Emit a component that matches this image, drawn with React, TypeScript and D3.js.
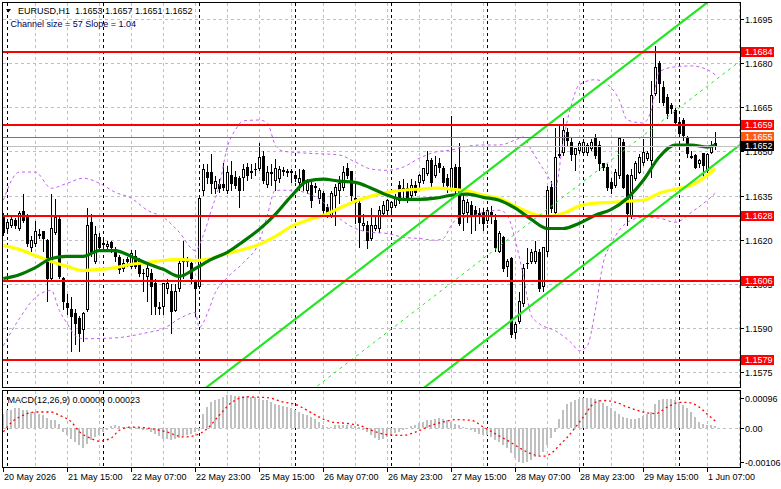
import React from 'react';
import * as d3 from 'd3';

// ---------------- DATA ----------------
const opens = [
1.16283,1.16238,1.16249,1.16266,1.16238,1.16297,1.16279,1.16174,1.16187,1.16218,
1.16228,1.16198,1.16068,1.16225,1.16269,1.16068,1.15986,1.15965,1.15952,1.15935,
1.15897,1.15965,1.16259,1.16129,1.16208,1.16187,1.16180,1.16191,1.16167,1.16140,
1.16105,1.16133,1.16112,1.16146,1.16129,1.16088,1.16078,1.16088,1.16054,1.15969,
1.15976,1.16037,1.16027,1.15962,1.16037,1.16126,1.16129,1.16119,1.16058,1.16044,
1.16368,1.16430,1.16430,1.16375,1.16389,1.16389,1.16368,1.16419,1.16413,1.16409,
1.16413,1.16447,1.16430,1.16440,1.16443,1.16484,1.16389,1.16426,1.16402,1.16409,
1.16433,1.16430,1.16430,1.16419,1.16395,1.16436,1.16368,1.16385,1.16382,1.16341,
1.16358,1.16310,1.16283,1.16351,1.16368,1.16378,1.16443,1.16433,1.16341,1.16324,
1.16249,1.16249,1.16204,1.16238,1.16238,1.16290,1.16300,1.16310,1.16317,1.16385,
1.16368,1.16375,1.16351,1.16385,1.16395,1.16402,1.16426,1.16471,1.16419,1.16460,
1.16443,1.16409,1.16375,1.16447,1.16447,1.16290,1.16293,1.16317,1.16300,1.16290,
1.16293,1.16266,1.16293,1.16266,1.16163,1.16208,1.16112,1.16136,1.15887,1.15924,
1.15986,1.16119,1.16129,1.16129,1.16157,1.16044,1.16163,1.16378,1.16293,1.16488,
1.16498,1.16566,1.16532,1.16491,1.16505,1.16498,1.16498,1.16512,1.16546,1.16522,
1.16460,1.16447,1.16395,1.16385,1.16419,1.16532,1.16419,1.16283,1.16409,1.16430,
1.16464,1.16477,1.16471,1.16699,1.16802,1.16720,1.16686,1.16658,1.16641,1.16600,
1.16607,1.16546,1.16484,1.16488,1.16460,1.16494,1.16436,1.16498,1.16530];

const highs = [
1.16293,1.16269,1.16279,1.16276,1.16300,1.16358,1.16290,1.16215,1.16266,1.16238,
1.16232,1.16204,1.16358,1.16341,1.16283,1.16078,1.16017,1.16010,1.15969,1.15945,
1.15959,1.16310,1.16290,1.16249,1.16225,1.16204,1.16198,1.16198,1.16177,1.16150,
1.16136,1.16146,1.16167,1.16167,1.16140,1.16105,1.16119,1.16102,1.16071,1.15993,
1.16054,1.16068,1.16051,1.16051,1.16140,1.16198,1.16146,1.16136,1.16061,1.16351,
1.16460,1.16460,1.16494,1.16419,1.16409,1.16464,1.16454,1.16471,1.16436,1.16419,
1.16460,1.16464,1.16460,1.16464,1.16532,1.16505,1.16454,1.16460,1.16477,1.16454,
1.16450,1.16443,1.16443,1.16436,1.16443,1.16443,1.16409,1.16402,1.16395,1.16378,
1.16368,1.16324,1.16368,1.16392,1.16419,1.16454,1.16464,1.16436,1.16392,1.16334,
1.16290,1.16266,1.16310,1.16283,1.16317,1.16334,1.16341,1.16334,1.16358,1.16402,
1.16409,1.16395,1.16409,1.16402,1.16426,1.16447,1.16505,1.16481,1.16488,1.16481,
1.16454,1.16426,1.16624,1.16460,1.16532,1.16358,1.16341,1.16334,1.16317,1.16310,
1.16310,1.16307,1.16317,1.16290,1.16232,1.16215,1.16136,1.16143,1.15924,1.16027,
1.16119,1.16174,1.16170,1.16198,1.16170,1.16180,1.16385,1.16402,1.16583,1.16590,
1.16617,1.16583,1.16549,1.16515,1.16539,1.16546,1.16532,1.16546,1.16563,1.16539,
1.16464,1.16460,1.16413,1.16443,1.16549,1.16546,1.16426,1.16443,1.16471,1.16494,
1.16546,1.16505,1.16744,1.16863,1.16812,1.16744,1.16699,1.16669,1.16651,1.16614,
1.16617,1.16556,1.16505,1.16494,1.16477,1.16494,1.16498,1.16539,1.16570];

const lows = [
1.16215,1.16228,1.16242,1.16238,1.16232,1.16259,1.16177,1.16163,1.16180,1.16204,
1.16163,1.15993,1.16058,1.16218,1.16068,1.15965,1.15948,1.15822,1.15846,1.15822,
1.15856,1.15959,1.16143,1.16122,1.16163,1.16170,1.16163,1.16157,1.16129,1.16088,
1.16095,1.16112,1.16105,1.16102,1.16078,1.16027,1.15993,1.15948,1.15948,1.15948,
1.15948,1.16017,1.15883,1.15959,1.16027,1.16071,1.16112,1.16054,1.15942,1.16034,
1.16351,1.16392,1.16358,1.16358,1.16361,1.16368,1.16358,1.16368,1.16375,1.16310,
1.16368,1.16402,1.16409,1.16419,1.16436,1.16392,1.16378,1.16385,1.16368,1.16395,
1.16419,1.16416,1.16395,1.16399,1.16368,1.16368,1.16358,1.16310,1.16361,1.16324,
1.16290,1.16276,1.16276,1.16249,1.16324,1.16368,1.16409,1.16334,1.16256,1.16174,
1.16232,1.16170,1.16198,1.16232,1.16225,1.16283,1.16283,1.16283,1.16310,1.16324,
1.16344,1.16327,1.16344,1.16351,1.16378,1.16392,1.16419,1.16378,1.16413,1.16430,
1.16378,1.16361,1.16368,1.16358,1.16249,1.16232,1.16259,1.16221,1.16232,1.16256,
1.16232,1.16256,1.16256,1.16163,1.16157,1.16095,1.16078,1.15870,1.15866,1.15918,
1.15976,1.16105,1.16119,1.16119,1.16027,1.16027,1.16146,1.16293,1.16286,1.16481,
1.16488,1.16522,1.16471,1.16436,1.16494,1.16488,1.16488,1.16505,1.16477,1.16436,
1.16436,1.16368,1.16358,1.16378,1.16409,1.16375,1.16249,1.16273,1.16402,1.16426,
1.16454,1.16471,1.16413,1.16692,1.16669,1.16658,1.16614,1.16631,1.16590,1.16549,
1.16539,1.16481,1.16477,1.16443,1.16447,1.16413,1.16430,1.16494,1.16510];

const closes = [
1.16225,1.16259,1.16269,1.16249,1.16290,1.16266,1.16187,1.16198,1.16228,1.16215,
1.16204,1.16071,1.16238,1.16276,1.16078,1.15993,1.15972,1.15942,1.15918,1.15883,
1.15952,1.16249,1.16153,1.16218,1.16174,1.16184,1.16184,1.16174,1.16143,1.16099,
1.16119,1.16129,1.16153,1.16112,1.16088,1.16085,1.16102,1.16044,1.15976,1.15972,
1.16051,1.16054,1.15959,1.16027,1.16119,1.16136,1.16131,1.16068,1.16034,1.16341,
1.16440,1.16413,1.16392,1.16399,1.16375,1.16378,1.16430,1.16392,1.16385,1.16368,
1.16440,1.16419,1.16433,1.16442,1.16481,1.16402,1.16430,1.16430,1.16443,1.16440,
1.16436,1.16433,1.16433,1.16409,1.16409,1.16392,1.16395,1.16334,1.16380,1.16368,
1.16300,1.16290,1.16358,1.16378,1.16392,1.16430,1.16419,1.16351,1.16327,1.16259,
1.16256,1.16198,1.16249,1.16249,1.16300,1.16317,1.16334,1.16327,1.16344,1.16334,
1.16375,1.16334,1.16385,1.16361,1.16419,1.16443,1.16471,1.16395,1.16454,1.16447,
1.16395,1.16385,1.16443,1.16368,1.16256,1.16334,1.16327,1.16283,1.16283,1.16288,
1.16256,1.16300,1.16283,1.16174,1.16221,1.16105,1.16129,1.15880,1.15914,1.15993,
1.16105,1.16122,1.16157,1.16163,1.16037,1.16174,1.16368,1.16307,1.16481,1.16491,
1.16573,1.16539,1.16491,1.16512,1.16529,1.16532,1.16522,1.16532,1.16488,1.16460,
1.16447,1.16378,1.16375,1.16430,1.16546,1.16378,1.16290,1.16419,1.16460,1.16481,
1.16498,1.16494,1.16692,1.16788,1.16733,1.16669,1.16631,1.16648,1.16600,1.16563,
1.16556,1.16494,1.16481,1.16447,1.16471,1.16454,1.16491,1.16522,1.16520];

// moving averages: [bar, price]
const greenMA: [number, number][] = [
[0,1.16068],[4,1.16081],[8,1.16105],[12,1.16136],[16,1.16143],[20,1.16143],[24,1.16163],
[28,1.16163],[32,1.16143],[36,1.16119],[40,1.16099],[44,1.16075],[48,1.16102],[52,1.16133],
[56,1.16157],[60,1.16194],[64,1.16235],[68,1.16286],[72,1.16348],[76,1.16399],[80,1.16406],
[84,1.16399],[88,1.16395],[92,1.16375],[96,1.16351],[100,1.16337],[104,1.16337],[108,1.16341],
[112,1.16351],[116,1.16355],[120,1.16344],[124,1.16334],[128,1.16307],[132,1.16269],[136,1.16238],
[140,1.16238],[144,1.16256],[148,1.16283],[152,1.16303],[156,1.16341],[160,1.16402],[164,1.16481],
[168,1.16522],[172,1.16522],[176,1.16515],[178,1.16522]];

const yellowMA: [number, number][] = [
[0,1.16180],[4,1.16167],[8,1.16146],[12,1.16126],[16,1.16109],[20,1.16095],[24,1.16099],
[28,1.16105],[32,1.16116],[36,1.16122],[40,1.16129],[44,1.16133],[48,1.16129],[52,1.16136],
[56,1.16153],[60,1.16167],[64,1.16184],[68,1.16211],[72,1.16245],[76,1.16266],[80,1.16283],
[84,1.16307],[88,1.16331],[92,1.16348],[96,1.16361],[100,1.16368],[104,1.16372],[108,1.16375],
[112,1.16372],[116,1.16365],[120,1.16351],[124,1.16341],[128,1.16314],[132,1.16290],[136,1.16279],
[140,1.16290],[144,1.16314],[148,1.16324],[152,1.16327],[156,1.16331],[160,1.16334],[164,1.16358],
[168,1.16372],[172,1.16385],[176,1.16419],[178,1.16443]];

const bbUpper: [number, number][] = [
[0,1.16334],[4,1.16430],[8,1.16430],[12,1.16375],[16,1.16392],[20,1.16409],[24,1.16392],
[28,1.16361],[32,1.16341],[36,1.16300],[40,1.16276],[44,1.16225],[48,1.16163],[50,1.16215],
[52,1.16300],[54,1.16385],[56,1.16515],[58,1.16573],[60,1.16604],[64,1.16607],[66,1.16597],
[68,1.16522],[70,1.16501],[76,1.16494],[84,1.16488],[88,1.16464],[92,1.16440],[96,1.16436],
[100,1.16447],[104,1.16477],[108,1.16498],[112,1.16505],[116,1.16518],[120,1.16522],[124,1.16522],
[128,1.16539],[130,1.16549],[132,1.16505],[136,1.16419],[138,1.16378],[140,1.16539],[142,1.16658],
[144,1.16727],[148,1.16744],[152,1.16716],[154,1.16675],[156,1.16607],[160,1.16597],[162,1.16641],
[164,1.16771],[168,1.16788],[172,1.16791],[176,1.16778],[178,1.16761]];

const bbLower: [number, number][] = [
[0,1.15839],[4,1.15931],[8,1.16003],[12,1.16027],[14,1.15959],[16,1.15914],[18,1.15873],
[20,1.15863],[28,1.15866],[36,1.15884],[40,1.15897],[44,1.15931],[48,1.15952],[49,1.15901],
[51,1.15948],[53,1.16020],[56,1.16071],[60,1.16122],[64,1.16194],[66,1.16283],[68,1.16368],
[72,1.16368],[76,1.16358],[80,1.16327],[84,1.16273],[88,1.16238],[92,1.16225],[96,1.16221],
[100,1.16208],[104,1.16204],[108,1.16198],[110,1.16204],[112,1.16249],[114,1.16276],[116,1.16276],
[120,1.16293],[124,1.16300],[126,1.16283],[128,1.16198],[130,1.16078],[132,1.15942],[134,1.15914],
[138,1.15890],[142,1.15849],[144,1.15822],[146,1.15839],[148,1.15959],[150,1.16122],[152,1.16187],
[156,1.16259],[160,1.16276],[164,1.16273],[168,1.16259],[172,1.16293],[176,1.16334],[178,1.16358]];

const macdHist = [
0.00046,0.00056,0.00058,0.00062,0.00062,0.00058,0.00056,0.00051,0.00051,0.00046,
0.00041,0.00033,0.00027,0.00025,0.00015,-0.00012,-0.00022,-0.00032,-0.00043,-0.00053,
-0.00063,-0.00048,-0.00037,-0.00027,-0.00022,-0.00012,-0.00006,0.00007,0.00009,0.00006,
0.00004,0.00004,0.00004,0.00004,0.00002,-0.00006,-0.00006,-0.00012,-0.00017,-0.00025,
-0.00032,-0.00032,-0.00037,-0.00032,-0.00029,-0.00025,-0.00022,-0.00017,-0.00012,-0.00008,
0.00046,0.00067,0.00082,0.00087,0.00093,0.00098,0.00103,0.00103,0.00100,0.00100,
0.00100,0.00100,0.00098,0.00098,0.00093,0.00090,0.00087,0.00082,0.00077,0.00074,
0.00069,0.00067,0.00062,0.00056,0.00051,0.00046,0.00041,0.00035,0.00030,0.00020,
0.00009,0.00004,0.00004,0.00009,0.00009,0.00009,0.00009,0.00009,0.00006,0.00004,
-0.00006,-0.00012,-0.00022,-0.00029,-0.00035,-0.00032,-0.00027,-0.00022,-0.00015,-0.00012,
-0.00006,-0.00003,0.00006,0.00009,0.00017,0.00020,0.00025,0.00027,0.00030,0.00033,
0.00030,0.00025,0.00020,0.00015,0.00009,0.00004,0.00000,-0.00006,-0.00012,-0.00017,
-0.00022,-0.00022,-0.00027,-0.00037,-0.00043,-0.00053,-0.00063,-0.00078,-0.00094,-0.00106,
-0.00109,-0.00106,-0.00100,-0.00091,-0.00084,-0.00075,-0.00053,-0.00031,-0.00012,0.00030,
0.00057,0.00077,0.00082,0.00090,0.00093,0.00096,0.00096,0.00096,0.00093,0.00087,
0.00079,0.00069,0.00062,0.00054,0.00046,0.00035,0.00033,0.00030,0.00030,0.00033,
0.00037,0.00044,0.00051,0.00077,0.00087,0.00093,0.00093,0.00093,0.00090,0.00082,
0.00072,0.00062,0.00051,0.00035,0.00020,0.00015,0.00009,0.00009,0.00006];

const macdSignal: [number, number][] = [
[0,-0.00011],[2,0.00018],[5,0.00041],[8,0.00051],[12,0.00051],[14,0.00041],[17,0.00020],
[19,-0.00010],[22,-0.00032],[24,-0.00040],[27,-0.00030],[29,-0.00006],[32,0.00004],[37,-0.00001],
[41,-0.00012],[45,-0.00027],[48,-0.00022],[51,-0.00001],[54,0.00041],[57,0.00080],[61,0.00098],
[66,0.00096],[70,0.00082],[73,0.00075],[76,0.00056],[79,0.00035],[82,0.00020],[86,0.00015],
[89,0.00009],[92,-0.00006],[96,-0.00020],[100,-0.00022],[103,-0.00012],[107,0.00009],[110,0.00020],
[113,0.00027],[117,0.00025],[120,0.00004],[123,-0.00017],[127,-0.00045],[130,-0.00068],[133,-0.00084],
[135,-0.00087],[137,-0.00078],[139,-0.00053],[141,-0.00028],[145,0.00035],[148,0.00081],[150,0.00087],
[153,0.00082],[156,0.00067],[160,0.00051],[163,0.00046],[166,0.00066],[169,0.00081],[171,0.00081],
[174,0.00066],[176,0.00044],[178,0.00023]];

const redLevels = [1.1684, 1.1659, 1.1628, 1.1606, 1.1579];
const orangeLevel = 1.1655;
const bidLevel = 1.1652;
const priceTicks = [1.1695, 1.1680, 1.1665, 1.1650, 1.1635, 1.1620, 1.1605, 1.1590, 1.1575];
const macdTicks = [0.00096, 0, -0.00106];
const macdTickLabels = ['0.00096', '0.00', '-0.00106'];
const timeTickBars = [0, 16, 32, 48, 64, 80, 96, 112, 128, 144, 160, 176];
const timeTickLabels = ['20 May 2026', '21 May 15:00', '22 May 07:00', '22 May 23:00', '25 May 15:00',
  '26 May 07:00', '26 May 23:00', '27 May 15:00', '28 May 07:00', '28 May 23:00', '29 May 15:00', '1 Jun 07:00'];
const daySeparatorBars = [1, 25, 49, 73, 97, 121, 145, 169];
const channelAnchorBars = [100, 170];
const channelAnchorPrices = [1.16212, 1.16944];
const channelSize = 0.0057;

// ---------------- CHART ----------------
const FONT = "'Liberation Sans', Arial, sans-serif";

export default function App() {
  const W = 781, H = 489;
  const L = 2.5, R = 740.5, mainTop = 2.5, mainBottom = 387.5, macdTop = 390.5, macdBottom = 467.5;

  const x = d3.scaleLinear().domain([0, 184]).range([3.3, 739.3]);
  const y = d3.scaleLinear().domain([1.156954, 1.170050]).range([388, 3]);
  const ym = d3.scaleLinear().domain([-0.001209, 0.001166]).range([467, 391]);
  const cx = (i: number) => Math.floor(x(i)) + 0.5;

  const lineP = d3.line<[number, number]>().x(d => x(d[0])).y(d => y(d[1])).curve(d3.curveMonotoneX);
  const lineM = d3.line<[number, number]>().x(d => x(d[0])).y(d => ym(d[1])).curve(d3.curveMonotoneX);

  const chan = d3.scaleLinear().domain(channelAnchorBars).range(channelAnchorPrices);
  const chanLine = (off: number) => {
    const a = -20, b = 200;
    return `M${x(a)},${y(chan(a) - off)}L${x(b)},${y(chan(b) - off)}`;
  };

  const vGrid: number[] = [];
  for (let b = 8; b <= 184; b += 8) vGrid.push(b);

  const grid = '#c0c0c0';
  const bbColor = '#c060ee';

  return (
    <svg width={W} height={H} style={{ position: 'absolute', left: 0, top: 0, background: '#fff' }}
      fontFamily={FONT}>
      <defs>
        <clipPath id="mainClip"><rect x={L} y={mainTop} width={R - L} height={mainBottom - mainTop} /></clipPath>
        <clipPath id="macdClip"><rect x={L} y={macdTop} width={R - L} height={macdBottom - macdTop} /></clipPath>
      </defs>
      <rect x={0} y={0} width={W} height={H} fill="#fff" />

      {/* grids */}
      <g stroke={grid} strokeWidth={1} strokeDasharray="3,3" shapeRendering="crispEdges">
        {vGrid.map(b => (
          <g key={'vg' + b}>
            <line x1={cx(b)} x2={cx(b)} y1={mainTop} y2={mainBottom} />
            <line x1={cx(b)} x2={cx(b)} y1={macdTop} y2={macdBottom} />
          </g>
        ))}
        {priceTicks.map(p => (
          <line key={'hg' + p} x1={L} x2={R} y1={Math.round(y(p)) + 0.5} y2={Math.round(y(p)) + 0.5} />
        ))}
        <line x1={L} x2={R} y1={Math.round(ym(0)) + 0.5} y2={Math.round(ym(0)) + 0.5} />
      </g>
      <g stroke="#000" strokeWidth={1} strokeDasharray="3,3" shapeRendering="crispEdges">
        {daySeparatorBars.map(b => (
          <g key={'ds' + b}>
            <line x1={cx(b)} x2={cx(b)} y1={mainTop} y2={mainBottom} />
            <line x1={cx(b)} x2={cx(b)} y1={macdTop} y2={macdBottom} />
          </g>
        ))}
      </g>

      {/* main pane */}
      <g clipPath="url(#mainClip)">
        {/* candles */}
        <g shapeRendering="crispEdges">
          {opens.map((o, i) => {
            const c = closes[i];
            const xc = cx(i);
            const yh = Math.round(y(highs[i])) + 0.5;
            const yl = Math.round(y(lows[i])) + 0.5;
            const yo = Math.round(y(o)) + 0.5;
            const yc = Math.round(y(c)) + 0.5;
            const top = Math.min(yo, yc), bot = Math.max(yo, yc);
            const bull = c >= o;
            return (
              <g key={'c' + i}>
                <line x1={xc} x2={xc} y1={yh} y2={yl} stroke="#000" />
                {bot - top < 1 ? (
                  <line x1={xc - 1.5} x2={xc + 1.5} y1={top} y2={top} stroke="#000" />
                ) : (
                  <rect x={xc - 1} y={top} width={2} height={bot - top}
                    fill={bull ? '#fff' : '#000'} stroke="#000" strokeWidth={1} />
                )}
              </g>
            );
          })}
        </g>
        {/* bollinger */}
        <path d={lineP(bbUpper) || ''} fill="none" stroke={bbColor} strokeWidth={1} strokeDasharray="3,3" />
        <path d={lineP(bbLower) || ''} fill="none" stroke={bbColor} strokeWidth={1} strokeDasharray="3,3" />
        {/* moving averages */}
        <path d={lineP(yellowMA) || ''} fill="none" stroke="#ffff00" strokeWidth={3.2} />
        <path d={lineP(greenMA) || ''} fill="none" stroke="#007800" strokeWidth={3.2} />
        {/* channel */}
        <path d={chanLine(0)} stroke="#22e622" strokeWidth={2.2} fill="none" />
        <path d={chanLine(channelSize)} stroke="#22e622" strokeWidth={2.2} fill="none" />
        <path d={chanLine(channelSize / 2)} stroke="#22e622" strokeWidth={1} strokeDasharray="3,4" fill="none" />
        {/* horizontal levels */}
        <line x1={L} x2={R} y1={Math.round(y(bidLevel)) + 0.5} y2={Math.round(y(bidLevel)) + 0.5}
          stroke="#c0c0c0" strokeWidth={1} shapeRendering="crispEdges" />
        <line x1={L} x2={R} y1={Math.round(y(orangeLevel)) + 0.5} y2={Math.round(y(orangeLevel)) + 0.5}
          stroke="#ff4500" strokeWidth={1} shapeRendering="crispEdges" />
        {redLevels.map(p => (
          <line key={'rl' + p} x1={L} x2={R} y1={Math.round(y(p))} y2={Math.round(y(p))}
            stroke="#ff0000" strokeWidth={2} shapeRendering="crispEdges" />
        ))}
      </g>

      {/* macd pane */}
      <g clipPath="url(#macdClip)">
        <g fill="#c0c0c0" shapeRendering="crispEdges">
          {macdHist.map((v, i) => {
            const y0 = Math.round(ym(0));
            const y1 = Math.round(ym(v));
            return <rect key={'h' + i} x={Math.floor(x(i)) - 1} y={Math.min(y0, y1)} width={2}
              height={Math.max(1, Math.abs(y1 - y0))} />;
          })}
        </g>
        <path d={lineM(macdSignal) || ''} fill="none" stroke="#ff0000" strokeWidth={1.3} strokeDasharray="2,3" />
      </g>

      {/* frames */}
      <g fill="none" stroke="#000" strokeWidth={1} shapeRendering="crispEdges">
        <rect x={L} y={mainTop} width={R - L} height={mainBottom - mainTop} />
        <rect x={L} y={macdTop} width={R - L} height={macdBottom - macdTop} />
      </g>

      {/* right axis: price ticks */}
      <g fontSize={9} fill="#000">
        {priceTicks.map(p => {
          const yy = Math.round(y(p)) + 0.5;
          return (
            <g key={'pt' + p}>
              <line x1={R} x2={R + 3} y1={yy} y2={yy} stroke="#000" shapeRendering="crispEdges" />
              <text x={745} y={yy} dominantBaseline="central">{p.toFixed(4)}</text>
            </g>
          );
        })}
        {macdTicks.map((v, i) => {
          const yy = Math.round(ym(v)) + 0.5;
          return (
            <g key={'mt' + i}>
              <line x1={R} x2={R + 3} y1={yy} y2={yy} stroke="#000" shapeRendering="crispEdges" />
              <text x={745} y={yy} dominantBaseline="central">{macdTickLabels[i]}</text>
            </g>
          );
        })}
      </g>

      {/* level labels */}
      <g fontSize={9}>
        {redLevels.map(p => {
          const yy = y(p);
          return (
            <g key={'lb' + p}>
              <rect x={741} y={Math.round(yy) - 5} width={33} height={10} fill="#ff0000" />
              <text x={745} y={Math.round(yy)} dominantBaseline="central" fill="#fff">{p.toFixed(4)}</text>
            </g>
          );
        })}
        <rect x={741} y={Math.round(y(orangeLevel)) - 5} width={33} height={10} fill="#ff5a14" />
        <text x={745} y={Math.round(y(orangeLevel))} dominantBaseline="central" fill="#fff">{orangeLevel.toFixed(4)}</text>
        <rect x={741} y={Math.round(y(bidLevel)) - 5} width={33} height={10} fill="#000" />
        <text x={745} y={Math.round(y(bidLevel))} dominantBaseline="central" fill="#fff">{bidLevel.toFixed(4)}</text>
      </g>

      {/* time axis */}
      <g fontSize={9} fill="#000">
        {timeTickBars.map((b, i) => (
          <g key={'tt' + b}>
            <line x1={cx(b)} x2={cx(b)} y1={macdBottom} y2={macdBottom + 4} stroke="#000" shapeRendering="crispEdges" />
            <text x={cx(b) + 0.5} y={480}>{timeTickLabels[i]}</text>
          </g>
        ))}
      </g>

      {/* headers */}
      <path d="M6,9L11,9L8.5,12.5Z" fill="#000" />
      <text x={18} y={13.5} fontSize={9} fill="#000" xmlSpace="preserve">EURUSD,H1  1.1653 1.1657 1.1651 1.1652</text>
      <text x={10.5} y={26.5} fontSize={9} fill="#000050">Channel size = 57 Slope = 1.04</text>
      <text x={7.5} y={402.5} fontSize={9} fill="#000">MACD(12,26,9) 0.00006 0.00023</text>
    </svg>
  );
}
